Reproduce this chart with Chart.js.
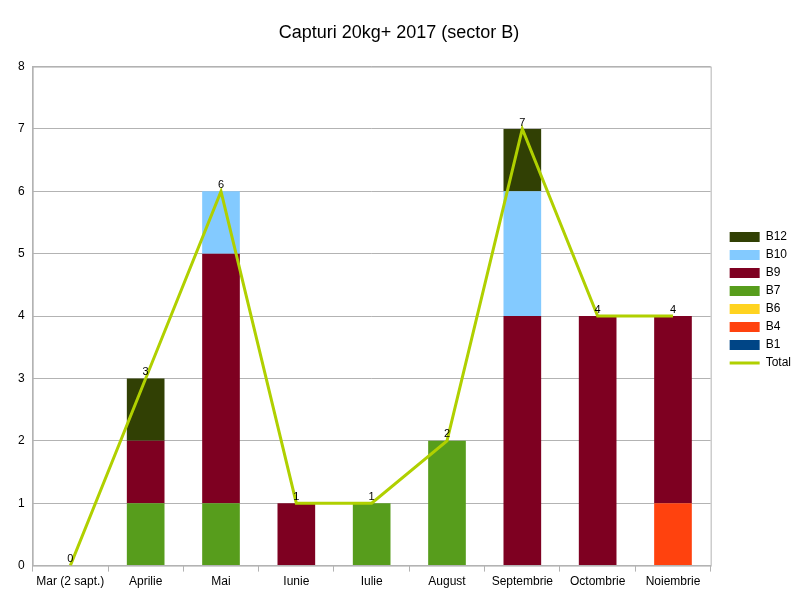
<!DOCTYPE html>
<html>
<head>
<meta charset="utf-8">
<script src="https://cdn.jsdelivr.net/npm/chart.js@4/dist/chart.umd.min.js"></script>
<style>
  html, body { margin: 0; padding: 0; background: #fff; }
  #wrap { width: 800px; height: 600px; }
</style>
</head>
<body>
<div id="wrap"><canvas id="grafic"></canvas></div>
<script>
// date
const luni = ['Mar (2 sapt.)', 'Aprilie', 'Mai', 'Iunie', 'Iulie', 'August', 'Septembrie', 'Octombrie', 'Noiembrie'];
const b1  = [0, 0, 0, 0, 0, 0, 0, 0, 0];
const b4  = [0, 0, 0, 0, 0, 0, 0, 0, 1];
const b6  = [0, 0, 0, 0, 0, 0, 0, 0, 0];
const b7  = [0, 1, 1, 0, 1, 2, 0, 0, 0];
const b9  = [0, 1, 4, 1, 0, 0, 4, 4, 3];
const b10 = [0, 0, 1, 0, 0, 0, 2, 0, 0];
const b12 = [0, 1, 0, 0, 0, 0, 1, 0, 0];
const total = [0, 3, 6, 1, 1, 2, 7, 4, 4];

const culori = {
    B1: '#004586', B4: '#ff420e', B6: '#ffd320', B7: '#579d1c',
    B9: '#7e0021', B10: '#83caff', B12: '#314004', Total: '#b0d000'
};

function bara(nume, valori) {
    return {
        type: 'bar',
        label: nume,
        data: valori,
        backgroundColor: culori[nume],
        borderWidth: 0,
        stack: 's',
        categoryPercentage: 0.5,
        barPercentage: 1.0,
        order: 2
    };
}

// chenar in jurul zonei de desen
const chenar = {
    id: 'chenar',
    beforeDatasetsDraw(chart) {
        const a = chart.chartArea, c = chart.ctx;
        c.save();
        c.strokeStyle = '#b3b3b3';
        c.lineWidth = 1;
        c.strokeRect(a.left + 0.5, a.top + 0.5, a.right - a.left, a.bottom - a.top);
        c.restore();
    }
};

// mut legenda putin spre dreapta si in jos
const mutaLegenda = {
    id: 'mutaLegenda',
    afterLayout(chart) {
        if (chart.legend) {
            chart.legend.left += 13;
            chart.legend.right += 13;
            chart.legend.top += 4;
            chart.legend.bottom += 4;
        }
    }
};

// etichete deasupra liniei Total
const etichete = {
    id: 'etichete',
    afterDatasetsDraw(chart) {
        const idx = chart.data.datasets.findIndex(d => d.label === 'Total');
        const meta = chart.getDatasetMeta(idx);
        const c = chart.ctx;
        c.save();
        c.font = '11px "Liberation Sans", Arial, sans-serif';
        c.fillStyle = '#000';
        c.textAlign = 'center';
        c.textBaseline = 'bottom';
        meta.data.forEach((p, i) => {
            c.fillText(String(total[i]), p.x, p.y - 1);
        });
        c.restore();
    }
};

const ordineLegenda = ['B12', 'B10', 'B9', 'B7', 'B6', 'B4', 'B1', 'Total'];

new Chart(document.getElementById('grafic').getContext('2d'), {
    data: {
        labels: luni,
        datasets: [
            bara('B1', b1), bara('B4', b4), bara('B6', b6), bara('B7', b7),
            bara('B9', b9), bara('B10', b10), bara('B12', b12),
            {
                type: 'line',
                label: 'Total',
                data: total,
                borderColor: culori.Total,
                backgroundColor: culori.Total,
                borderWidth: 3,
                pointRadius: 0,
                tension: 0,
                order: 1,
                pointStyle: 'line'
            }
        ]
    },
    options: {
        responsive: true,
        maintainAspectRatio: false,
        animation: false,
        layout: { padding: { left: 10, right: 12, top: 0, bottom: 8 } },
        plugins: {
            title: {
                display: true,
                text: 'Capturi 20kg+ 2017 (sector B)',
                color: '#000',
                font: { family: '"Liberation Sans", Arial, sans-serif', size: 18, weight: 'normal' },
                padding: { top: 22, bottom: 23 }
            },
            legend: {
                position: 'right',
                labels: {
                    usePointStyle: true,
                    pointStyleWidth: 30,
                    boxHeight: 10,
                    padding: 6,
                    color: '#000',
                    font: { family: '"Liberation Sans", Arial, sans-serif', size: 12 },
                    generateLabels(chart) {
                        const lst = Chart.defaults.plugins.legend.labels.generateLabels(chart);
                        lst.forEach(l => {
                            l.pointStyle = l.text === 'Total' ? 'line' : 'rect';
                            l.lineWidth = l.text === 'Total' ? 3 : 0;
                            l.strokeStyle = l.fillStyle;
                        });
                        return lst;
                    },
                    sort: (a, b) => ordineLegenda.indexOf(a.text) - ordineLegenda.indexOf(b.text)
                }
            },
            tooltip: { enabled: false }
        },
        scales: {
            x: {
                stacked: true,
                offset: true,
                grid: { offset: true, drawOnChartArea: false, drawTicks: true, tickLength: 6, color: '#b3b3b3' },
                border: { color: '#b3b3b3' },
                ticks: { color: '#000', font: { family: '"Liberation Sans", Arial, sans-serif', size: 12 }, maxRotation: 0, autoSkip: false }
            },
            y: {
                stacked: true,
                min: 0,
                max: 8,
                ticks: { stepSize: 1, color: '#000', font: { family: '"Liberation Sans", Arial, sans-serif', size: 12 }, padding: 8 },
                grid: { color: '#b3b3b3', drawTicks: false },
                border: { color: '#b3b3b3' }
            }
        }
    },
    plugins: [chenar, mutaLegenda, etichete]
});
</script>
</body>
</html>
